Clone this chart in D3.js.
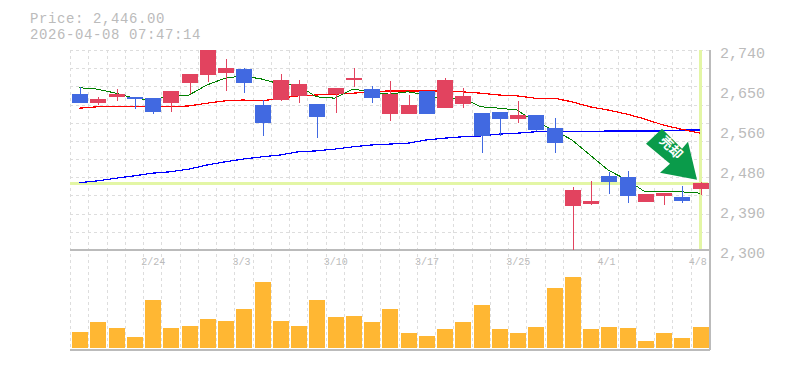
<!DOCTYPE html>
<html>
<head>
<meta charset="utf-8">
<script src="https://cdn.jsdelivr.net/npm/d3@7"></script>
<style>
body { margin: 0; background: #fff; }
text { font-family: "Liberation Mono", monospace; fill: #bbb; }
</style>
</head>
<body>
<svg></svg>
<script>
// values
const opens  = [2643,2623,2637,2637,2634,2623,2667,2685,2689,2698,2619,2630,2639,2621,2643,2674,2654,2599,2599,2650,2612,2621,2601,2603,2588,2597,2568,2397,2401,2463,2461,2406,2419,2417,2434];
const closes = [2623,2632,2643,2632,2603,2650,2687,2740,2700,2667,2579,2674,2665,2593,2656,2678,2634,2643,2619,2599,2674,2639,2551,2588,2597,2564,2535,2432,2408,2450,2419,2423,2425,2408,2446];
const highs  = [2659,2637,2654,2637,2634,2650,2687,2740,2720,2700,2630,2687,2674,2621,2656,2700,2661,2672,2641,2650,2678,2656,2601,2603,2628,2597,2590,2439,2452,2472,2474,2423,2425,2441,2450];
const lows   = [2623,2619,2628,2610,2599,2603,2643,2670,2650,2645,2551,2628,2623,2546,2601,2659,2623,2584,2599,2599,2612,2612,2513,2551,2579,2562,2513,2300,2399,2423,2403,2406,2399,2403,2421];
const maShort = [2657,2654,2645,2634,2630,2639,2641,2663,2678,2683,2676,2665,2663,2637,2634,2654,2648,2643,2648,2641,2632,2634,2615,2612,2608,2582,2564,2542,2509,2476,2454,2428,2428,2428,2425];
const maMid   = [2612,2615,2615,2615,2615,2615,2617,2623,2628,2630,2628,2634,2639,2641,2643,2645,2648,2650,2650,2650,2650,2648,2645,2641,2639,2634,2634,2626,2615,2608,2599,2588,2575,2566,2557];
const maLong  = [2448,2452,2458,2463,2469,2472,2478,2487,2494,2500,2505,2509,2516,2518,2522,2527,2531,2533,2535,2542,2546,2549,2551,2555,2557,2560,2560,2560,2560,2562,2562,2562,2562,2564,2564];
const volumes = [16,26,20,11,48,20,22,29,27,39,66,27,22,48,31,32,26,39,15,12,19,26,43,19,15,21,60,71,19,21,20,7,15,10,21];
const priceTicks = [2740,2652,2564,2476,2388,2300];
const priceLabels = ["2,740","2,650","2,560","2,480","2,390","2,300"];
const dateTicks = [4,9,14,19,24,29,34];
const dateLabels = ["2/24","3/3","3/10","3/17","3/25","4/1","4/8"];
const lastPrice = 2446;

const chartW = 785, chartH = 370;
const plotL = 70, plotR = 709, plotT = 50, priceB = 250, volB = 350;

const svg = d3.select("svg").attr("width", chartW).attr("height", chartH).style("display", "block");

const xs = d3.scaleBand().domain(d3.range(35)).range([plotL, plotR]);
const ys = d3.scaleLinear().domain([2300, 2740]).range([priceB, plotT]);
const yv = d3.scaleLinear().domain([0, 71]).range([348, 277]);
const barX = i => Math.round(xs(i)) + 2;
const py = v => Math.round(ys(v) - 0.2);

// ================== GRID ==================
const grid = svg.append("g")
    .attr("stroke", "#ddd")
    .attr("stroke-dasharray", "3,3")
    .attr("shape-rendering", "crispEdges");

grid.selectAll("line.v")
    .data(d3.range(36))
    .enter().append("line")
    .attr("class", "v")
    .attr("x1", i => i < 35 ? Math.round(xs(i)) : plotR)
    .attr("x2", i => i < 35 ? Math.round(xs(i)) : plotR)
    .attr("y1", plotT)
    .attr("y2", volB);

grid.selectAll("line.h")
    .data(d3.range(11))
    .enter().append("line")
    .attr("class", "h")
    .attr("x1", plotL)
    .attr("x2", plotR)
    .attr("y1", i => Math.round(plotT + i * (priceB - plotT) / 11))
    .attr("y2", i => Math.round(plotT + i * (priceB - plotT) / 11));

// ================== PANEL LINES ==================
const panel = svg.append("g")
    .attr("stroke", "#bbb")
    .attr("shape-rendering", "crispEdges");
panel.append("line").attr("x1", plotL).attr("x2", plotR + 1).attr("y1", priceB).attr("y2", priceB).attr("stroke-width", 1.5);
panel.append("line").attr("x1", plotL).attr("x2", plotR + 1).attr("y1", volB).attr("y2", volB).attr("stroke-width", 1.5);
panel.append("line").attr("x1", plotR + 1).attr("x2", plotR + 1).attr("y1", plotT).attr("y2", volB).attr("stroke-width", 1.5);

// ================== LAST PRICE MARKERS ==================
const lastY = ys(lastPrice);
const lastX = Math.round(xs(34)) + 9;
svg.append("line").attr("x1", plotL).attr("x2", plotR - 1).attr("y1", lastY).attr("y2", lastY)
    .attr("stroke", "#e3f6a5").attr("stroke-width", 3).attr("shape-rendering", "crispEdges");
svg.append("line").attr("x1", lastX).attr("x2", lastX).attr("y1", plotT).attr("y2", priceB - 1)
    .attr("stroke", "#e3f6a5").attr("stroke-width", 3).attr("shape-rendering", "crispEdges");

// ================== MOVING AVERAGES ==================
const line = d3.line()
    .x((d, i) => Math.round(xs(i)) + 9)
    .y(d => ys(d));

[[maLong, "#0000ff", 1.2], [maMid, "#ff0000", 1.2], [maShort, "#008000", 1]].forEach(function(m) {
    svg.append("path")
        .datum(m[0])
        .attr("fill", "none")
        .attr("stroke", m[1])
        .attr("stroke-width", m[2])
        .attr("shape-rendering", "crispEdges")
        .attr("d", line);
});

// ================== CANDLES ==================
const colour = i => closes[i] >= opens[i] ? "#e2435f" : "#4169e1";
const candles = svg.append("g").attr("shape-rendering", "crispEdges");

candles.selectAll("rect.wick")
    .data(d3.range(35))
    .enter().append("rect")
    .attr("class", "wick")
    .attr("x", i => barX(i) + 8)
    .attr("width", 1)
    .attr("y", i => py(highs[i]))
    .attr("height", i => py(lows[i]) - py(highs[i]))
    .attr("fill", colour);

candles.selectAll("rect.body")
    .data(d3.range(35))
    .enter().append("rect")
    .attr("class", "body")
    .attr("x", barX)
    .attr("width", 16)
    .attr("y", i => py(Math.max(opens[i], closes[i])))
    .attr("height", i => py(Math.min(opens[i], closes[i])) - py(Math.max(opens[i], closes[i])))
    .attr("fill", colour);

// ================== VOLUME ==================
svg.append("g").attr("shape-rendering", "crispEdges")
    .selectAll("rect")
    .data(volumes)
    .enter().append("rect")
    .attr("x", (d, i) => barX(i))
    .attr("width", 16)
    .attr("y", d => yv(d))
    .attr("height", d => yv(0) - yv(d))
    .attr("fill", "#ffb733");

// ================== ARROW ==================
const arrow = svg.append("g").attr("transform", "translate(" + (barX(34) + 4) + "," + (lastY - 4) + ")");
arrow.append("path")
    .attr("d", "M-35,-51L-15,-31L-9,-38L0,0L-37,-7L-27,-16L-51,-36Z")
    .attr("fill", "#0a9b4a");
arrow.append("text")
    .attr("transform", "translate(-29,-29) rotate(45)")
    .attr("text-anchor", "middle")
    .style("font-family", "'Noto Sans CJK JP'")
    .style("font-size", "13px")
    .style("font-weight", "700")
    .style("fill", "#fff")
    .text("売却");

// ================== AXES ==================
const axisY = svg.append("g")
    .attr("transform", "translate(720,3)")
    .call(d3.axisRight(ys).tickValues(priceTicks).tickSize(0).tickPadding(0).tickFormat((d, i) => priceLabels[i]));
axisY.select(".domain").remove();
axisY.selectAll("text").style("font-family", "'Liberation Mono'").style("font-size", "15px");

const axisX = svg.append("g")
    .attr("transform", "translate(0,258)")
    .call(d3.axisBottom(xs).tickValues(dateTicks).tickSize(0).tickPadding(0).tickFormat((d, i) => dateLabels[i]));
axisX.select(".domain").remove();
axisX.selectAll("text")
    .attr("text-anchor", "start")
    .attr("x", -11)
    .style("font-family", "'Liberation Mono'")
    .style("font-size", "10px");

// ================== TITLE ==================
svg.append("text").attr("x", 30).attr("y", 22.5).style("font-size", "14px").style("letter-spacing", "0.6px").text("Price: 2,446.00");
svg.append("text").attr("x", 30).attr("y", 38.5).style("font-size", "14px").style("letter-spacing", "0.6px").text("2026-04-08 07:47:14");
</script>
</body>
</html>
